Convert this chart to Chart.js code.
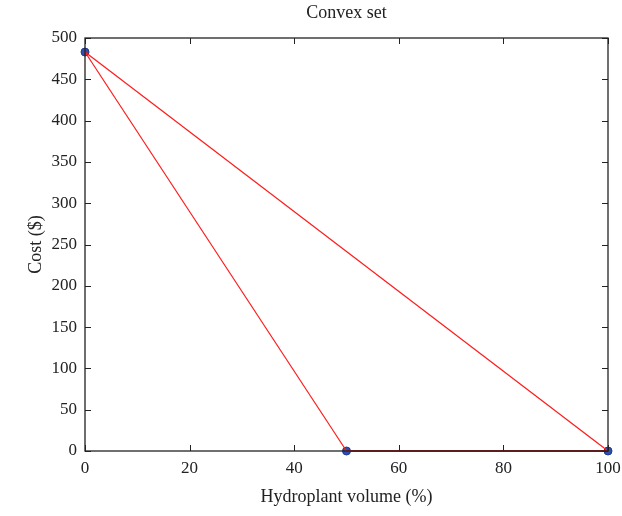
<!DOCTYPE html>
<html><head><meta charset="utf-8">
<script src="https://cdn.jsdelivr.net/npm/chart.js@4"></script>
<style>html,body{margin:0;padding:0;background:#fff}#c{display:block}</style>
</head><body>
<canvas id="c" width="622" height="516"></canvas>
<script>
const volumes = [0, 50, 100];
const costs = [483, 0, 0];
const edges = [[0, 1], [0, 2], [1, 2]];
const xTicks = [0, 20, 40, 60, 80, 100];
const yTicks = [0, 50, 100, 150, 200, 250, 300, 350, 400, 450, 500];
const titleText = 'Convex set';
const xLabel = 'Hydroplant volume (%)';
const yLabel = 'Cost ($)';

const FONT = "'Liberation Serif', 'DejaVu Serif', serif";
const pts = volumes.map((v, i) => ({x: v, y: costs[i]}));
const datasets = edges.map((e, k) => ({
  data: [pts[e[0]], pts[e[1]]],
  showLine: true,
  borderColor: k === 2 ? '#c8141e' : '#ff1a1a',
  borderWidth: k === 2 ? 2 : 1.2,
  pointRadius: 0,
  clip: false
}));
datasets.push({
  data: pts,
  showLine: false,
  pointRadius: 4,
  pointBackgroundColor: '#2f4fb0',
  pointBorderColor: '#1f3a8a',
  pointBorderWidth: 1,
  clip: false
});

const boxPlugin = {
  id: 'box',
  afterDraw(chart) {
    const {ctx, chartArea: a, scales: {x, y}} = chart;
    ctx.save();
    ctx.strokeStyle = '#222';
    ctx.lineWidth = 1.3;
    ctx.strokeRect(a.left, a.top, a.right - a.left, a.bottom - a.top);
    ctx.lineWidth = 1;
    const L = 6;
    xTicks.forEach(v => {
      const px = Math.round(x.getPixelForValue(v)) + 0.5;
      ctx.beginPath();
      ctx.moveTo(px, a.bottom); ctx.lineTo(px, a.bottom - L);
      ctx.moveTo(px, a.top); ctx.lineTo(px, a.top + L);
      ctx.stroke();
    });
    yTicks.forEach(v => {
      const py = Math.round(y.getPixelForValue(v)) + 0.5;
      ctx.beginPath();
      ctx.moveTo(a.left, py); ctx.lineTo(a.left + L, py);
      ctx.moveTo(a.right, py); ctx.lineTo(a.right - L, py);
      ctx.stroke();
    });
    ctx.fillStyle = '#222';
    ctx.font = '18px ' + FONT;
    ctx.textAlign = 'center';
    ctx.textBaseline = 'middle';
    ctx.fillText(titleText, (a.left + a.right) / 2, 13);
    ctx.restore();
  }
};

new Chart(document.getElementById('c'), {
  type: 'scatter',
  data: {datasets},
  options: {
    responsive: false,
    animation: false,
    layout: {padding: {top: 38, right: 14, left: 0, bottom: 0}},
    plugins: {legend: {display: false}, tooltip: {enabled: false}, title: {display: false}},
    scales: {
      x: {
        type: 'linear', min: 0, max: 100,
        afterBuildTicks: s => { s.ticks = xTicks.map(v => ({value: v})); },
        afterFit: s => { s.height = 65; s.paddingLeft = 0; s.paddingRight = 0; },
        grid: {display: false, drawTicks: false},
        border: {display: false},
        ticks: {color: '#222', font: {family: FONT, size: 17}, padding: 7, maxRotation: 0},
        title: {display: true, text: xLabel, color: '#222', font: {family: FONT, size: 18}, padding: {top: 0, bottom: 8}}
      },
      y: {
        type: 'linear', min: 0, max: 500,
        afterBuildTicks: s => { s.ticks = yTicks.map(v => ({value: v})); },
        afterFit: s => { s.width = 85; s.paddingTop = 0; s.paddingBottom = 0; },
        grid: {display: false, drawTicks: false},
        border: {display: false},
        ticks: {color: '#222', font: {family: FONT, size: 17}, padding: 8},
        title: {display: true, text: yLabel, color: '#222', font: {family: FONT, size: 18}, padding: {top: 25, bottom: 0}}
      }
    }
  },
  plugins: [boxPlugin]
});
</script>
</body></html>
